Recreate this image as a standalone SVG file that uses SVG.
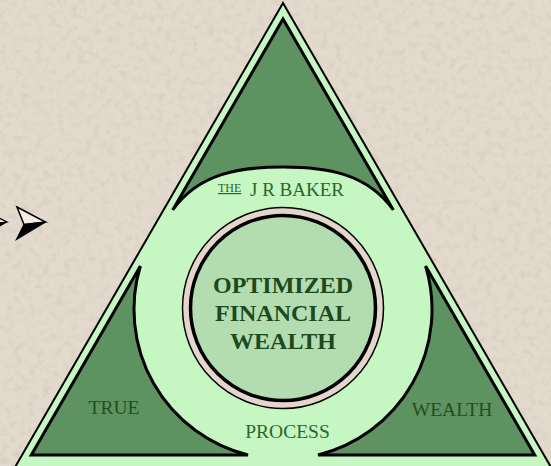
<svg xmlns="http://www.w3.org/2000/svg" width="551" height="466" viewBox="0 0 551 466">
  <defs>
    <filter id="grain" x="0" y="0" width="100%" height="100%" filterUnits="userSpaceOnUse">
      <feTurbulence type="fractalNoise" baseFrequency="0.14" numOctaves="3" seed="7" result="n"/>
      <feColorMatrix in="n" type="matrix" values="0 0 0 0 0.55  0 0 0 0 0.50  0 0 0 0 0.43  0.9 0 0 0 -0.42"/>
    </filter>
    <style>
      .serif { font-family: "Liberation Serif", "Times New Roman", serif; }
      .outer { fill: #c6f6c2; stroke: #000; stroke-width: 2; stroke-linejoin: miter; }
      .corner { fill: #5e9260; stroke: #000; stroke-width: 3; stroke-linejoin: miter; }
      .label { font-size: 19.5px; fill: #2b662d; text-anchor: middle; }
      .dark-label { font-size: 19.5px; fill: #1e4f20; text-anchor: middle; }
      .core { font-size: 24px; font-weight: bold; fill: #1b4a1c; text-anchor: middle; }
    </style>
  </defs>

  <!-- textured paper background -->
  <rect width="551" height="466" fill="#e3dacd"/>
  <rect width="551" height="466" filter="url(#grain)"/>

  <!-- bullet arrowheads -->
  <g id="bullets">
    <polygon points="-9,214 7,222 -4,223.5" fill="#f4efe6" stroke="#000" stroke-width="1.2"/>
    <polygon points="-4,223.5 7,222 -9,231" fill="#000" stroke="#000" stroke-width="1"/>
    <polygon points="17,207 45.5,222 24,224.5" fill="#f4efe6" stroke="#000" stroke-width="1.5" stroke-linejoin="miter"/>
    <polygon points="24,224.5 45.5,222 16.5,239.5" fill="#000" stroke="#000" stroke-width="1.2" stroke-linejoin="miter"/>
  </g>

  <!-- outer triangle frame -->
  <g id="frame">
    <polygon class="outer" points="283,3 13.4,470 552.6,470"/>
  </g>

  <!-- top corner: THE J R BAKER -->
  <g id="corner-top">
    <path class="corner" d="M283 19 L172.7 210 C199 173 240 167 283 167 C326 167 367 173 393.3 210 Z"/>
    <text class="serif" x="218" y="192" font-size="12" fill="#2b662d" text-decoration="underline">THE</text>
    <text class="serif" x="250" y="196" font-size="19" fill="#2b662d">J R BAKER</text>
  </g>

  <!-- bottom-left corner: TRUE -->
  <g id="corner-true">
    <path class="corner" d="M31.3 455 L140.4 266 A150 150 0 0 0 248 455 Z"/>
    <text class="serif dark-label" x="114" y="414">TRUE</text>
  </g>

  <!-- bottom-right corner: WEALTH -->
  <g id="corner-wealth">
    <path class="corner" d="M534.7 455 L425.6 266 A150 150 0 0 1 318 455 Z"/>
    <text class="serif dark-label" x="452" y="416">WEALTH</text>
  </g>

  <!-- ring label -->
  <g id="process">
    <text class="serif label" x="287.5" y="438">PROCESS</text>
  </g>

  <!-- central hub -->
  <g id="hub">
    <circle cx="283" cy="308" r="100.5" fill="#e4d6ca" stroke="#000" stroke-width="1.5"/>
    <circle cx="283" cy="308" r="92.5" fill="#b3dcb0" stroke="#000" stroke-width="3.5"/>
    <text class="serif core" x="283" y="293">OPTIMIZED</text>
    <text class="serif core" x="283" y="321">FINANCIAL</text>
    <text class="serif core" x="283" y="349">WEALTH</text>
  </g>
</svg>
